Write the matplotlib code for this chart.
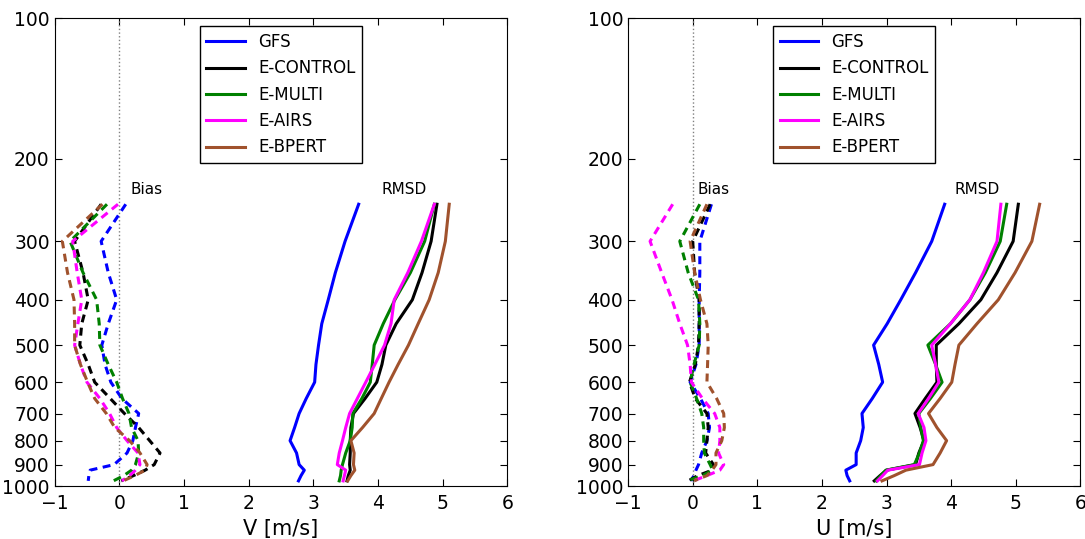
import numpy as np
import matplotlib
matplotlib.use("Agg")
from matplotlib import pyplot as plt
from matplotlib.ticker import FixedLocator, FixedFormatter, NullLocator

levels = [250, 300, 350, 400, 450, 500, 550, 600, 650, 700, 750, 800, 850, 900, 925, 950, 975]
names = ["GFS", "E-CONTROL", "E-MULTI", "E-AIRS", "E-BPERT"]
colors = ["#0000ff", "#000000", "#008000", "#ff00ff", "#a0522d"]

# V component
v_bias_gfs = [0.10, -0.28, -0.17, -0.04, -0.17, -0.27, -0.22, -0.13, 0.04, 0.30, 0.25, 0.21, 0.12, -0.08, -0.45, -0.47, -0.48]
v_bias_control = [-0.28, -0.69, -0.56, -0.48, -0.58, -0.61, -0.48, -0.38, -0.14, 0.08, 0.30, 0.47, 0.63, 0.54, 0.40, 0.22, 0.03]
v_bias_multi = [-0.19, -0.76, -0.56, -0.35, -0.31, -0.30, -0.17, -0.04, 0.05, 0.15, 0.19, 0.29, 0.30, 0.25, 0.19, 0.07, -0.09]
v_bias_airs = [-0.02, -0.72, -0.65, -0.58, -0.64, -0.69, -0.60, -0.50, -0.30, -0.15, -0.04, 0.12, 0.29, 0.32, 0.25, 0.16, 0.04]
v_bias_bpert = [-0.26, -0.88, -0.80, -0.70, -0.69, -0.69, -0.60, -0.49, -0.38, -0.20, -0.07, 0.16, 0.32, 0.43, 0.40, 0.24, 0.06]

v_rmsd_gfs = [3.70, 3.49, 3.34, 3.23, 3.13, 3.08, 3.04, 3.02, 2.89, 2.78, 2.71, 2.64, 2.74, 2.78, 2.86, 2.81, 2.77]
v_rmsd_control = [4.91, 4.82, 4.68, 4.53, 4.28, 4.12, 4.06, 3.98, 3.80, 3.62, 3.58, 3.57, 3.57, 3.56, 3.57, 3.54, 3.52]
v_rmsd_multi = [4.87, 4.72, 4.50, 4.26, 4.08, 3.94, 3.91, 3.88, 3.75, 3.61, 3.60, 3.57, 3.50, 3.45, 3.43, 3.42, 3.40]
v_rmsd_airs = [4.87, 4.67, 4.46, 4.25, 4.20, 4.10, 3.95, 3.81, 3.68, 3.56, 3.50, 3.45, 3.40, 3.37, 3.50, 3.48, 3.46]
v_rmsd_bpert = [5.10, 5.04, 4.93, 4.79, 4.62, 4.47, 4.31, 4.17, 4.05, 3.94, 3.76, 3.58, 3.63, 3.62, 3.64, 3.58, 3.53]

# U component
u_bias_gfs = [0.29, 0.11, 0.11, 0.10, 0.10, 0.10, 0.05, -0.04, 0.12, 0.24, 0.26, 0.22, 0.14, 0.09, 0.05, 0.02, -0.03]
u_bias_control = [0.27, 0.00, 0.03, 0.10, 0.10, 0.09, 0.04, -0.05, 0.04, 0.22, 0.24, 0.22, 0.20, 0.32, 0.30, 0.08, -0.07]
u_bias_multi = [0.11, -0.20, -0.07, 0.09, 0.11, 0.10, 0.02, -0.04, 0.06, 0.14, 0.17, 0.17, 0.18, 0.27, 0.31, 0.15, -0.09]
u_bias_airs = [-0.31, -0.66, -0.48, -0.32, -0.20, -0.08, -0.04, -0.02, 0.15, 0.34, 0.42, 0.42, 0.40, 0.48, 0.42, 0.22, 0.01]
u_bias_bpert = [0.22, -0.04, 0.03, 0.12, 0.22, 0.24, 0.23, 0.22, 0.37, 0.48, 0.49, 0.45, 0.36, 0.36, 0.30, 0.22, 0.02]

u_rmsd_gfs = [3.90, 3.70, 3.45, 3.22, 3.01, 2.80, 2.88, 2.94, 2.78, 2.62, 2.64, 2.60, 2.53, 2.53, 2.37, 2.39, 2.43]
u_rmsd_control = [5.04, 4.96, 4.71, 4.46, 4.12, 3.77, 3.77, 3.78, 3.60, 3.44, 3.52, 3.58, 3.50, 3.45, 3.00, 2.90, 2.81]
u_rmsd_multi = [4.86, 4.76, 4.53, 4.29, 3.99, 3.64, 3.76, 3.86, 3.68, 3.50, 3.53, 3.57, 3.51, 3.43, 2.99, 2.91, 2.84]
u_rmsd_airs = [4.77, 4.71, 4.50, 4.29, 3.99, 3.70, 3.76, 3.81, 3.65, 3.49, 3.58, 3.61, 3.55, 3.51, 3.02, 2.94, 2.86]
u_rmsd_bpert = [5.37, 5.25, 4.99, 4.73, 4.40, 4.12, 4.06, 4.01, 3.83, 3.65, 3.78, 3.93, 3.83, 3.72, 3.30, 3.12, 2.93]

pticks = [100, 200, 300, 400, 500, 600, 700, 800, 900, 1000]

plt.rcParams["font.family"] = ["DejaVu Sans"]


def draw_panel(ax, bias, rmsd, xlabel):
    ax.axvline(0, color="gray", linestyle=":", linewidth=1)
    for name, color, b, r in zip(names, colors, bias, rmsd):
        ax.plot(r, levels, color=color, linewidth=2.2, label=name)
        ax.plot(b, levels, color=color, linewidth=2.2, dashes=(2.6, 1.8))
    ax.set_yscale("log")
    ax.set_ylim(1000, 100)
    ax.set_xlim(-1, 6)
    ax.yaxis.set_major_locator(FixedLocator(pticks))
    ax.yaxis.set_major_formatter(FixedFormatter([str(p) for p in pticks]))
    ax.yaxis.set_minor_locator(NullLocator())
    ax.tick_params(direction="in", top=True, right=True, labelsize=13.5, length=5)
    ax.tick_params(axis="x", pad=6)
    ax.set_xlabel(xlabel, fontsize=15)
    leg = ax.legend(loc="upper center", fontsize=12, fancybox=False, framealpha=1,
                    edgecolor="black", handlelength=2.3, borderaxespad=0.5)
    leg.get_frame().set_linewidth(1)


fig = plt.figure(figsize=(10.85, 5.39), dpi=100)
ax1 = fig.add_axes([0.0503, 0.0983, 0.4174, 0.8683])
ax2 = fig.add_axes([0.5789, 0.0983, 0.4168, 0.8683])

draw_panel(ax1,
           [v_bias_gfs, v_bias_control, v_bias_multi, v_bias_airs, v_bias_bpert],
           [v_rmsd_gfs, v_rmsd_control, v_rmsd_multi, v_rmsd_airs, v_rmsd_bpert],
           "V [m/s]")
draw_panel(ax2,
           [u_bias_gfs, u_bias_control, u_bias_multi, u_bias_airs, u_bias_bpert],
           [u_rmsd_gfs, u_rmsd_control, u_rmsd_multi, u_rmsd_airs, u_rmsd_bpert],
           "U [m/s]")

ax1.text(0.17, 232, "Bias", fontsize=11, va="center")
ax1.text(4.05, 232, "RMSD", fontsize=11, va="center")
ax2.text(0.07, 232, "Bias", fontsize=11, va="center")
ax2.text(4.05, 232, "RMSD", fontsize=11, va="center")

fig.savefig("out.png", dpi=100)
